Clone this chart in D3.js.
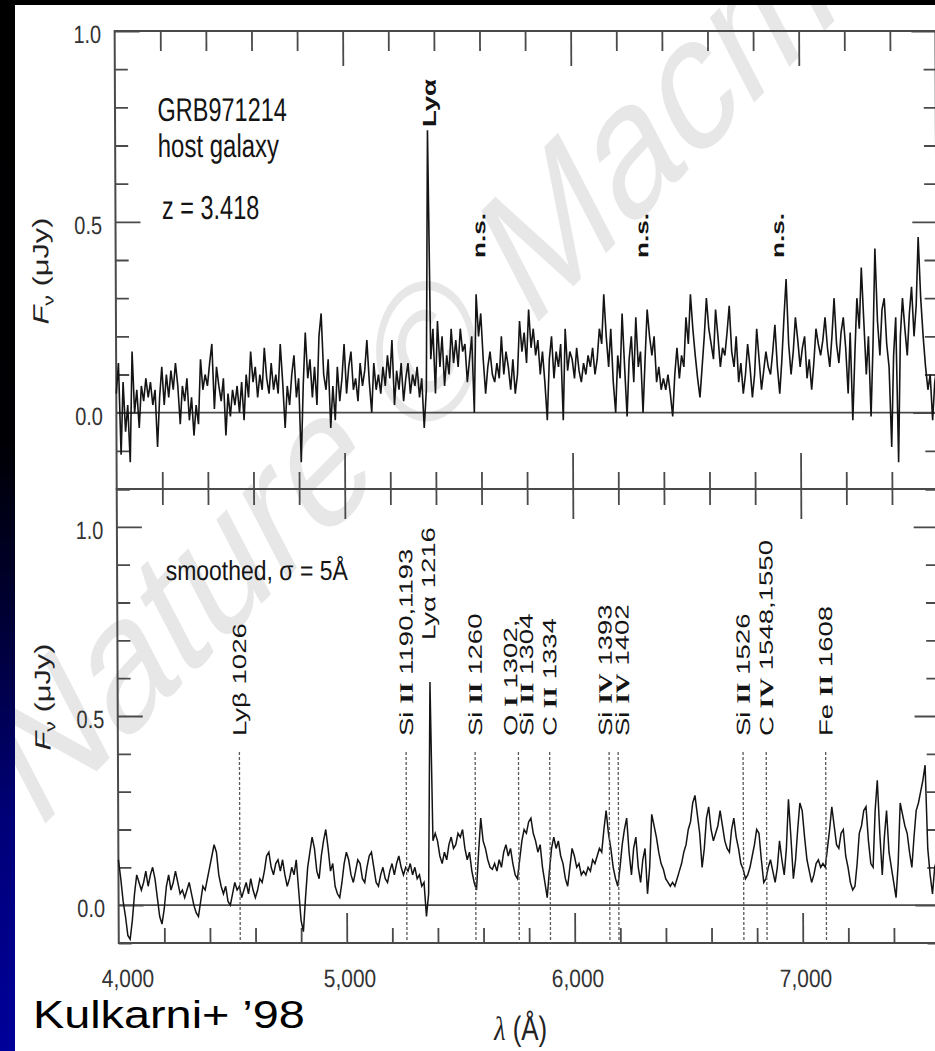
<!DOCTYPE html>
<html>
<head>
<meta charset="utf-8">
<script src="https://cdn.jsdelivr.net/npm/d3@7"></script>
<style>
  html, body { margin: 0; padding: 0; background: #fff; overflow: hidden; }
  svg { display: block; }
</style>
</head>
<body>
<svg id="fig" width="935" height="1051"></svg>
<script>
// ---------------------------------------------------------------
// GRB971214 host galaxy spectrum (Kulkarni et al. 1998)
// ---------------------------------------------------------------
const redshift = 3.418;
const lambdaStart = 4000;   // Å, first sample of both spectra
const lambdaStep = 10;      // Å, sampling interval

// raw spectrum, F_nu in microJansky
const fluxRaw = [
  0.05, 0.13, -0.11, 0.08, -0.05, 0.02, -0.13, 0.16, 0.00, 0.06,
  -0.04, 0.07, 0.03, 0.09, 0.04, 0.08, 0.02, 0.06, -0.09, 0.04,
  0.12, 0.02, 0.10, 0.04, 0.11, 0.06, 0.13, 0.07, -0.03, 0.07,
  0.03, 0.09, -0.02, 0.04, -0.06, 0.02, -0.03, 0.14, 0.06, 0.10,
  0.07, 0.13, 0.18, 0.01, 0.12, 0.07, 0.03, 0.09, -0.06, 0.05,
  -0.01, 0.06, 0.02, 0.07, 0.00, 0.08, -0.02, 0.10, 0.04, 0.16,
  0.08, 0.12, 0.04, 0.10, 0.06, 0.17, 0.09, 0.05, 0.13, 0.06,
  0.10, 0.05, 0.18, 0.08, -0.04, 0.07, 0.02, 0.10, 0.15, 0.04,
  0.09, -0.13, 0.07, 0.21, 0.09, 0.14, 0.04, 0.12, 0.02, 0.20,
  0.26, 0.10, 0.06, 0.14, -0.04, 0.07, -0.02, 0.12, 0.03, 0.09,
  0.18, 0.05, 0.12, 0.16, 0.06, 0.09, 0.03, 0.13, 0.07, 0.11,
  0.19, 0.08, 0.00, 0.13, 0.06, 0.10, 0.05, 0.12, 0.07, 0.15,
  0.09, 0.19, 0.02, 0.11, 0.06, 0.13, 0.03, 0.09, 0.13, 0.05,
  0.10, 0.07, 0.12, 0.04, 0.09, -0.04, 0.06, 0.74, 0.14, 0.22,
  0.05, 0.24, 0.12, 0.20, 0.07, 0.15, 0.10, 0.22, 0.13, 0.19,
  0.12, 0.22, 0.16, 0.18, 0.08, 0.14, 0.20, 0.00, 0.31, 0.20,
  0.26, 0.14, 0.05, 0.12, 0.16, 0.10, 0.08, 0.13, 0.09, 0.20,
  0.10, 0.16, 0.12, 0.06, 0.14, 0.05, 0.10, 0.24, 0.16, 0.21,
  0.13, 0.27, 0.17, 0.22, 0.15, 0.19, 0.10, 0.16, 0.08, -0.02,
  0.14, 0.20, 0.09, 0.16, 0.12, 0.18, -0.02, 0.22, 0.11, 0.16,
  0.14, 0.09, 0.17, 0.11, 0.08, 0.13, 0.10, 0.15, 0.12, 0.17,
  0.10, 0.14, 0.22, 0.18, 0.31, 0.20, 0.12, 0.22, 0.08, 0.00,
  0.15, 0.09, 0.26, 0.12, -0.01, 0.14, 0.20, 0.08, 0.25, 0.12,
  0.16, 0.00, 0.14, 0.27, 0.20, 0.15, 0.20, 0.08, 0.12, 0.06,
  0.09, 0.06, 0.10, 0.05, -0.01, 0.10, 0.17, 0.09, 0.15, 0.12,
  0.25, 0.18, 0.31, 0.22, 0.15, 0.09, 0.04, 0.12, 0.20, 0.30,
  0.22, 0.18, 0.14, 0.27, 0.20, 0.12, 0.17, 0.15, 0.21, 0.28,
  0.16, 0.12, 0.20, 0.08, 0.13, 0.05, 0.10, 0.18, 0.12, 0.04,
  0.10, 0.22, 0.14, 0.06, 0.11, 0.16, 0.12, 0.10, 0.16, 0.23,
  0.12, 0.05, 0.14, 0.25, 0.35, 0.18, 0.10, 0.16, 0.25, 0.19,
  0.12, 0.17, 0.20, 0.09, 0.14, 0.06, 0.13, 0.22, 0.18, 0.15,
  0.19, 0.25, 0.17, 0.12, 0.20, 0.30, 0.18, 0.13, 0.21, 0.25,
  0.17, 0.05, 0.21, -0.02, 0.15, 0.30, 0.22, 0.38, 0.24, 0.10,
  0.20, -0.01, 0.18, 0.43, 0.24, 0.15, 0.27, 0.30, 0.18, 0.12,
  -0.09, 0.15, 0.25, -0.13, 0.20, 0.30, 0.22, 0.15, 0.26, 0.33,
  0.20, 0.28, 0.46, 0.30, 0.20, 0.12, 0.06, 0.10, -0.02, 0.08,
  0.12
];

// same spectrum smoothed with a sigma = 5 Å gaussian
const fluxSmoothed = [
  0.12, 0.07, 0.01, -0.03, -0.08, -0.09, -0.04, 0.03, 0.08, 0.06,
  0.04, 0.06, 0.09, 0.05, 0.08, 0.10, 0.07, 0.02, -0.03, -0.05,
  -0.01, 0.05, 0.08, 0.04, 0.06, 0.09, 0.06, 0.03, 0.04, 0.02,
  0.04, 0.06, 0.03, 0.00, -0.02, -0.03, 0.01, 0.05, 0.04, 0.07,
  0.10, 0.13, 0.16, 0.14, 0.08, 0.05, 0.03, 0.05, 0.01, 0.00,
  0.03, 0.06, 0.04, 0.05, 0.02, 0.04, 0.06, 0.03, 0.07, 0.04,
  0.02, 0.04, 0.07, 0.06, 0.09, 0.13, 0.14, 0.10, 0.08, 0.11,
  0.12, 0.09, 0.12, 0.08, 0.05, 0.07, 0.10, 0.08, 0.12, 0.04,
  -0.04, -0.07, 0.02, 0.10, 0.14, 0.18, 0.15, 0.09, 0.07, 0.13,
  0.17, 0.20, 0.15, 0.09, 0.11, 0.05, 0.03, 0.02, 0.06, 0.11,
  0.14, 0.12, 0.08, 0.06, 0.09, 0.12, 0.11, 0.07, 0.06, 0.10,
  0.13, 0.14, 0.10, 0.06, 0.05, 0.08, 0.10, 0.07, 0.06, 0.09,
  0.11, 0.08, 0.11, 0.13, 0.10, 0.08, 0.10, 0.09, 0.11, 0.08,
  0.10, 0.07, 0.08, 0.05, 0.06, -0.03, 0.03, 0.59, 0.17, 0.19,
  0.17, 0.13, 0.11, 0.14, 0.12, 0.16, 0.18, 0.15, 0.16, 0.19,
  0.18, 0.20, 0.15, 0.12, 0.14, 0.09, 0.06, 0.04, 0.14, 0.23,
  0.17, 0.15, 0.12, 0.10, 0.095, 0.11, 0.09, 0.12, 0.10, 0.14,
  0.16, 0.13, 0.15, 0.11, 0.08, 0.07, 0.12, 0.17, 0.20, 0.19,
  0.22, 0.23, 0.19, 0.17, 0.14, 0.16, 0.10, 0.06, 0.02, 0.09,
  0.15, 0.18, 0.15, 0.17, 0.13, 0.11, 0.07, 0.05, 0.10, 0.15,
  0.13, 0.10, 0.11, 0.08, 0.09, 0.08, 0.10, 0.09, 0.12, 0.11,
  0.13, 0.15, 0.14, 0.20, 0.25, 0.19, 0.15, 0.10, 0.07, 0.05,
  0.10, 0.16, 0.20, 0.23, 0.14, 0.08, 0.15, 0.18, 0.10, 0.06,
  0.12, 0.15, 0.03, 0.10, 0.24, 0.21, 0.18, 0.14, 0.11, 0.095,
  0.07, 0.06, 0.05, 0.06, 0.05, 0.07, 0.09, 0.11, 0.14, 0.16,
  0.20, 0.22, 0.27, 0.29, 0.24, 0.19, 0.10, 0.15, 0.23, 0.26,
  0.20, 0.17, 0.19, 0.21, 0.25, 0.21, 0.17, 0.15, 0.14, 0.20,
  0.23, 0.18, 0.15, 0.11, 0.095, 0.07, 0.08, 0.10, 0.13, 0.16,
  0.20, 0.19, 0.12, 0.06, 0.07, 0.10, 0.12, 0.09, 0.06, 0.10,
  0.17, 0.12, 0.08, 0.15, 0.28, 0.18, 0.07, 0.12, 0.20, 0.27,
  0.25, 0.18, 0.12, 0.09, 0.06, 0.08, 0.11, 0.12, 0.10, 0.11,
  0.10, 0.15, 0.20, 0.26, 0.21, 0.16, 0.15, 0.19, 0.20, 0.13,
  0.10, 0.06, 0.04, 0.05, 0.11, 0.19, 0.21, 0.25, 0.26, 0.17,
  0.11, 0.10, 0.25, 0.33, 0.19, 0.08, 0.18, 0.25, 0.14, 0.10,
  0.06, 0.02, 0.11, 0.27, 0.24, 0.21, 0.19, 0.14, 0.10, 0.18,
  0.25, 0.27, 0.30, 0.33, 0.37, 0.15, 0.08, 0.03, 0.10, 0.12,
  0.10
];

// axes
const xMajorTicks = [4000, 5000, 6000, 7000];
const yMajorTicks = [0.0, 0.5, 1.0];

// rest-frame identifications marked on the smoothed spectrum
const lineLabels = ["Lyβ 1026", "Si II 1190,1193", "Lyα 1216", "Si II 1260", "O I 1302,",
                    "Si II 1304", "C II 1334", "Si IV 1393", "Si IV 1402", "Si II 1526",
                    "C IV 1548,1550", "Fe II 1608"];
const lineRest   = [1026, 1191.5, 1216, 1260, 1302, 1304, 1334, 1393, 1402, 1526, 1549, 1608];
// dotted markers (O I / Si II blend drawn once)
const markerRest = [1026, 1191.5, 1260, 1303, 1334, 1393, 1402, 1526, 1549, 1608];
// night-sky residuals in the raw spectrum
const skyResidualAt = [5595, 6310, 6905];

// ---------------------------------------------------------------
const W = 935, H = 1051;
const svg = d3.select("#fig");
const SANS = "'Liberation Sans', Arial, Helvetica, sans-serif";
const SERIF = "'Liberation Serif', 'Times New Roman', serif";
const INK = "#141414";
const FRAME = "#4a4a4a";

// slide background with the white figure area on top
const defs = svg.append("defs");
const bg = defs.append("linearGradient").attr("id", "slideBg")
  .attr("x1", 0).attr("y1", 0).attr("x2", 0).attr("y2", 1);
[[0, "#000000"], [0.42, "#000004"], [0.56, "#00002c"], [0.78, "#000078"], [1, "#00009a"]]
  .forEach(([o, c]) => bg.append("stop").attr("offset", o).attr("stop-color", c));
const paper = { x: 15, y: 5, w: W - 15, h: H - 5 };
defs.append("clipPath").attr("id", "paperClip").append("rect")
  .attr("x", paper.x).attr("y", paper.y).attr("width", paper.w).attr("height", paper.h);
svg.append("rect").attr("width", W).attr("height", H).attr("fill", "url(#slideBg)");
svg.append("rect").attr("x", paper.x).attr("y", paper.y)
  .attr("width", paper.w).attr("height", paper.h).attr("fill", "#fff");

// publisher watermark, behind the figure, confined to the figure area
svg.append("g").attr("clip-path", "url(#paperClip)")
  .append("g").attr("transform", "scale(1,1.4)")
  .append("text")
  .attr("transform", "translate(36,595) rotate(-36)")
  .attr("font-family", SANS).attr("font-size", 142)
  .attr("fill", "#e7e7e7")
  .text("Nature © Macmillan");

// figure (the scan is very slightly sheared)
const fig = svg.append("g").attr("transform", "skewX(0.26)");

const x = d3.scaleLinear().domain([4000, 7600]).range([114.5, 935.3]);
const yTop = d3.scaleLinear().domain([-0.2, 1.0]).range([489, 31]);
const yBot = d3.scaleLinear().domain([-0.1, 1.1]).range([943, 489]);
const lam = fluxRaw.map((_, i) => lambdaStart + i * lambdaStep);

// text helper: the figure's lettering is stretched vertically
function label(parent, px, py, o) {
  const g = parent.append("g")
    .attr("transform", `translate(${px},${py}) scale(${o.sx || 1},${o.sy || 1})`);
  const t = g.append("text")
    .attr("font-family", o.family || SANS)
    .attr("font-size", o.size)
    .attr("fill", o.fill || INK)
    .attr("text-anchor", o.anchor || "start");
  if (o.rotate) t.attr("transform", `rotate(${o.rotate})`);
  if (o.weight) t.attr("font-weight", o.weight);
  if (o.text !== undefined) t.text(o.text);
  return t;
}

// element names with roman-numeral ionisation stages
function ionText(t, str) {
  str.split(/(\b[IV]+\b)/).forEach(part => {
    if (!part) return;
    const s = t.append("tspan").text(part);
    if (/^[IV]+$/.test(part)) s.attr("font-family", SERIF).attr("font-weight", "bold");
  });
}

function tickSet(g, axisFn, scale, values, size) {
  g.call(axisFn(scale).tickValues(values).tickSize(size).tickFormat(""))
   .call(s => s.select(".domain").remove())
   .call(s => s.selectAll("line").attr("stroke", FRAME).attr("stroke-width", 1.8));
}

const xLeft = x.range()[0], xRight = x.range()[1];
const xMinor = d3.range(4000, 7601, 200).filter(v => !xMajorTicks.includes(v));
const xMajor = xMajorTicks.filter(v => v > 4000);

function panel(yScale, topEdge, botEdge, opts) {
  const g = fig.append("g");
  const [v0, v1] = yScale.domain();
  const yMinor = d3.range(Math.ceil(v0 * 10), Math.floor(v1 * 10) + 1)
    .map(k => +(k / 10).toFixed(1)).filter(v => !yMajorTicks.includes(v));
  const yMaj = yMajorTicks.filter(v => v >= v0 && v <= v1);

  // y ticks, left and right, pointing into the panel
  tickSet(g.append("g").attr("transform", `translate(${xLeft},0)`), d3.axisRight, yScale, yMinor, 13);
  tickSet(g.append("g").attr("transform", `translate(${xLeft},0)`), d3.axisRight, yScale, yMaj, 25);
  tickSet(g.append("g").attr("transform", `translate(${xRight},0)`), d3.axisLeft, yScale, yMinor, 12);
  tickSet(g.append("g").attr("transform", `translate(${xRight},0)`), d3.axisLeft, yScale, yMaj, 24);

  // x ticks on the upper and lower edges
  tickSet(g.append("g").attr("transform", `translate(0,${topEdge})`), d3.axisBottom, x, xMinor, opts.topMinor);
  tickSet(g.append("g").attr("transform", `translate(0,${topEdge})`), d3.axisBottom, x, xMajor, opts.topMajor);
  tickSet(g.append("g").attr("transform", `translate(0,${botEdge})`), d3.axisTop, x, xMinor, opts.botMinor);
  tickSet(g.append("g").attr("transform", `translate(0,${botEdge})`), d3.axisTop, x, xMajor, opts.botMajor);

  // zero level
  g.append("line").attr("x1", xLeft).attr("x2", xRight)
    .attr("y1", yScale(0)).attr("y2", yScale(0))
    .attr("stroke", FRAME).attr("stroke-width", 1.8);

  // frame
  g.append("rect").attr("x", xLeft).attr("y", topEdge)
    .attr("width", xRight - xLeft).attr("height", botEdge - topEdge)
    .attr("fill", "none").attr("stroke", FRAME).attr("stroke-width", 2);

  // y tick labels
  yMaj.forEach(v => {
    label(g, 101, yScale(v) + 3, { size: 20, sy: 1.25, anchor: "end", fill: "#333" })
      .attr("dy", "0.36em").text(d3.format(".1f")(v));
  });

  // y axis title  F_nu (uJy)
  const t = label(g, 47, opts.titleY, { size: 22, sy: 1.4, anchor: "middle", rotate: -90, fill: "#222" });
  t.append("tspan").attr("font-style", "italic").text("F");
  t.append("tspan").attr("font-size", 15).attr("dy", 5).text("ν");
  t.append("tspan").attr("dy", -5).text(" (μJy)");
  return g;
}

const topPanel = panel(yTop, 31, 489, { topMinor: 20, topMajor: 35, botMinor: 17, botMajor: 36, titleY: 271 });
const botPanel = panel(yBot, 489, 943, { topMinor: 16, topMajor: 30, botMinor: 15, botMajor: 30, titleY: 697 });

// spectra
const lineTop = d3.line().x((d, i) => x(lam[i])).y(d => yTop(d));
const lineBot = d3.line().x((d, i) => x(lam[i])).y(d => yBot(d));
topPanel.append("path").datum(fluxRaw).attr("d", lineTop)
  .attr("fill", "none").attr("stroke", INK).attr("stroke-width", 1.6);
botPanel.append("path").datum(fluxSmoothed).attr("d", lineBot)
  .attr("fill", "none").attr("stroke", INK).attr("stroke-width", 1.5);

// annotations, upper panel
label(topPanel, 157, 121, { size: 23.5, sy: 1.4, text: "GRB971214" });
label(topPanel, 157, 157, { size: 24, sy: 1.36, text: "host galaxy" });
label(topPanel, 161, 219, { size: 23.5, sy: 1.42, text: "z = 3.418" });
label(topPanel, x(1216 * (1 + redshift)) + 8, 127,
      { size: 19, sy: 1.45, rotate: -90, weight: "bold", text: "Lyα" });
skyResidualAt.forEach(l => {
  label(topPanel, x(l) + 6, 258, { size: 18, sy: 1.45, rotate: -90, weight: "bold", text: "n.s." });
});

// annotations, lower panel
label(botPanel, 163, 580, { size: 23, sy: 1.2, text: "smoothed, σ = 5Å" });

// dotted identification markers
botPanel.selectAll("line.marker").data(markerRest).join("line")
  .attr("class", "marker")
  .attr("x1", d => x(d * (1 + redshift))).attr("x2", d => x(d * (1 + redshift)))
  .attr("y1", yBot(0.405)).attr("y2", yBot(-0.1))
  .attr("stroke", "#5a5a5a").attr("stroke-width", 1.3).attr("stroke-dasharray", "3,2");

// identification labels; close pairs are spread apart
const labelX = lineRest.map(r => x(r * (1 + redshift)));
labelX.forEach((px, i) => {
  if (i > 0 && px - labelX[i - 1] < 6) {
    const mid = (px + labelX[i - 1]) / 2;
    labelX[i - 1] = mid - 8; labelX[i] = mid + 8;
  } else if (i > 0 && px - labelX[i - 1] < 12) {
    labelX[i - 1] -= 4; labelX[i] += 4;
  }
});
lineLabels.forEach((txt, i) => {
  const isLya = txt.startsWith("Lyα");
  const t = label(botPanel, labelX[i] + (isLya ? 5 : 7), isLya ? 640 : 736,
                  { size: 19, sy: 1.45, rotate: -90 });
  ionText(t, txt);
});

// x tick labels and title
xMajorTicks.forEach((v, i) => {
  label(fig, x(v) + (i === 0 ? 9 : 3), 987, { size: 21, sy: 1.2, anchor: "middle", fill: "#333" })
    .text(d3.format(",")(v));
});
const xt = label(fig, 516, 1040, { size: 26, sy: 1.3, anchor: "middle", fill: "#222" });
xt.append("tspan").attr("font-style", "italic").attr("font-family", SERIF).text("λ");
xt.append("tspan").text(" (Å)");

// slide caption
label(svg, 33, 1028, { size: 39, sx: 1.2, fill: "#000", text: "Kulkarni+ ’98" });
</script>
</body>
</html>
